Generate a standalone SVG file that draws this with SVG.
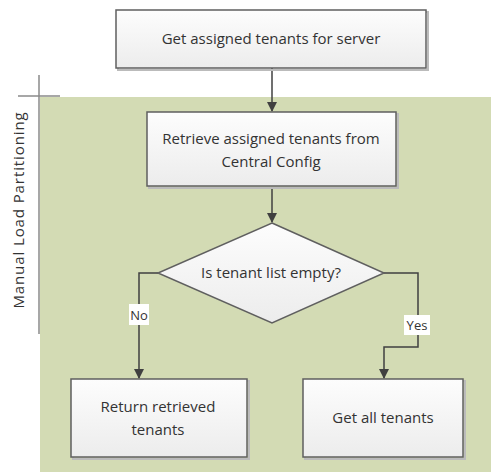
<svg xmlns="http://www.w3.org/2000/svg" width="491" height="472" viewBox="0 0 491 472">
<style>
.box{fill:url(#g);stroke:#5f5f5f;stroke-width:1.5}
.sh{fill:none;stroke:#bbb;stroke-width:2}
.t{font-family:"Open Sans","Liberation Sans",Arial,sans-serif;font-size:15px;fill:#333;text-anchor:middle}
.c{fill:none;stroke:#404040;stroke-width:1.5}
.lbl{fill:#fff}
</style>
<defs>
<linearGradient id="g" x1="0" y1="0" x2="0" y2="1"><stop offset="0" stop-color="#fdfdfd"/><stop offset="1" stop-color="#ececec"/></linearGradient>
<marker id="a" markerWidth="10" markerHeight="10" refX="9" refY="5" orient="auto" markerUnits="userSpaceOnUse"><path d="M0,0 L10,5 L0,10 Z" fill="#404040"/></marker>
</defs>
<g id="lane">
<rect x="40" y="97" width="451" height="375" fill="#d3dbb4"/>
<line x1="39" y1="75" x2="39" y2="334" stroke="#8a8a8a" stroke-width="1.5"/>
<line x1="18" y1="96" x2="60" y2="96" stroke="#8a8a8a" stroke-width="1.5"/>
<text class="t" transform="translate(24,210) rotate(-90)" style="letter-spacing:0.9px">Manual Load Partitioning</text>
</g>
<g id="connectors">
<path class="c" d="M272,68 V111" marker-end="url(#a)"/>
<path class="c" d="M272,187 V222" marker-end="url(#a)"/>
<path class="c" d="M158,273 H139 V378" marker-end="url(#a)"/>
<path class="c" d="M384,273 H418 V347 H384 V378" marker-end="url(#a)"/>
<rect class="lbl" x="129" y="304" width="20" height="21"/>
<text class="t" x="139" y="320" style="font-size:13px">No</text>
<rect class="lbl" x="404" y="315" width="26" height="20"/>
<text class="t" x="417" y="330" style="font-size:13px">Yes</text>
</g>
<g id="n1">
<rect class="sh" x="118" y="12" width="310" height="58"/>
<rect class="box" x="116" y="10" width="310" height="58"/>
<text class="t" x="271" y="44">Get assigned tenants for server</text>
</g>
<g id="n2">
<rect class="sh" x="149" y="114" width="249" height="74"/>
<rect class="box" x="147" y="112" width="249" height="74"/>
<text class="t" x="271" y="144">Retrieve assigned tenants from</text>
<text class="t" x="271" y="167">Central Config</text>
</g>
<g id="n3">
<path d="M272,223 L384,273 L272,323 L158,273 Z" fill="url(#g)" stroke="#5f5f5f" stroke-width="1.5"/>
<text class="t" x="271" y="278">Is tenant list empty?</text>
</g>
<g id="n4">
<rect class="sh" x="73" y="381" width="176" height="78"/>
<rect class="box" x="71" y="379" width="176" height="78"/>
<text class="t" x="158" y="412">Return retrieved</text>
<text class="t" x="158" y="435">tenants</text>
</g>
<g id="n5">
<rect class="sh" x="305" y="381" width="160" height="78"/>
<rect class="box" x="303" y="379" width="160" height="78"/>
<text class="t" x="383" y="423">Get all tenants</text>
</g>
</svg>
